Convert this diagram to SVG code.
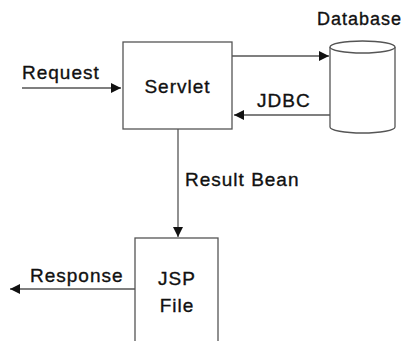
<svg xmlns="http://www.w3.org/2000/svg" width="408" height="341" viewBox="0 0 408 341">
<style>
.t{font-family:"Liberation Sans",Arial,sans-serif;font-size:19px;letter-spacing:1px;fill:#111;stroke:#111;stroke-width:0.35}
.box{fill:#fff;stroke:#555;stroke-width:1.3}
.ln{fill:none;stroke:#555;stroke-width:1.3}
</style>
<defs>
<marker id="ah" viewBox="0 0 10 10" refX="10" refY="5" markerWidth="12" markerHeight="10" markerUnits="userSpaceOnUse" orient="auto">
<path d="M0,0 L10,5 L0,10 Z" fill="#111"/>
</marker>
</defs>
<g id="connectors">
<line class="ln" x1="22" y1="88" x2="121" y2="88" marker-end="url(#ah)"/>
<line class="ln" x1="232" y1="56" x2="329" y2="56" marker-end="url(#ah)"/>
<line class="ln" x1="330" y1="115" x2="234" y2="115" marker-end="url(#ah)"/>
<line class="ln" x1="178" y1="129" x2="178" y2="237" marker-end="url(#ah)"/>
<line class="ln" x1="135" y1="289" x2="10" y2="289" marker-end="url(#ah)"/>
<text class="t" x="22" y="79">Request</text>
<text class="t" x="257" y="107">JDBC</text>
<text class="t" x="185" y="186">Result Bean</text>
<text class="t" x="30" y="282">Response</text>
</g>
<g id="servlet">
<rect class="box" x="123" y="42" width="109" height="87"/>
<text class="t" x="177.5" y="93" text-anchor="middle">Servlet</text>
</g>
<g id="database">
<path class="box" d="M330,47 L330,127 A32.5,6 0 0 0 395,127 L395,47"/>
<ellipse class="box" cx="362.5" cy="47" rx="32.5" ry="6"/>
<text class="t" x="317" y="25" style="font-size:18px">Database</text>
</g>
<g id="jsp">
<rect class="box" x="135" y="238" width="83" height="110"/>
<text class="t" x="177" y="285" text-anchor="middle">JSP</text>
<text class="t" x="177" y="312" text-anchor="middle">File</text>
</g>
</svg>
